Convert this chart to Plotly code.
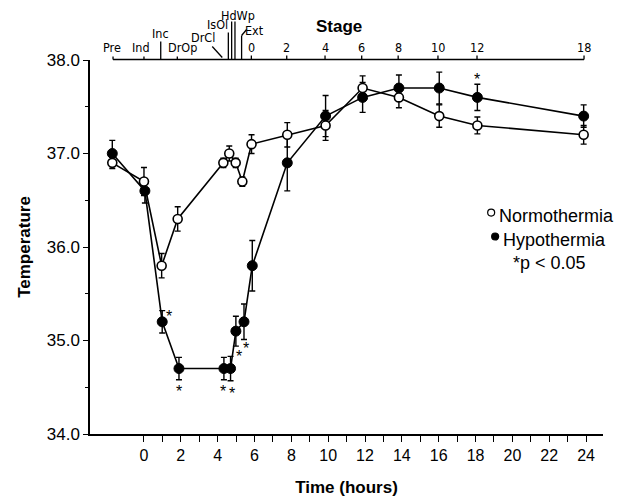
import plotly.graph_objects as go

# ---------------- data ----------------
time_normo = [-1.72, 0.0, 0.96, 1.83, 4.31, 4.63, 4.98, 5.34, 5.84, 7.78, 9.86, 11.87, 13.84, 16.03, 18.1, 23.87]
temp_normo = [36.9, 36.7, 35.8, 36.3, 36.9, 37.0, 36.9, 36.7, 37.1, 37.2, 37.3, 37.7, 37.6, 37.4, 37.3, 37.2]
err_normo = [0.06, 0.15, 0.13, 0.13, 0.05, 0.08, 0.05, 0.05, 0.10, 0.13, 0.16, 0.13, 0.11, 0.12, 0.09, 0.10]

time_hypo = [-1.72, 0.05, 0.99, 1.9, 4.34, 4.7, 4.99, 5.43, 5.88, 7.78, 9.86, 11.87, 13.84, 16.03, 18.1, 23.87]
temp_hypo = [37.0, 36.6, 35.2, 34.7, 34.7, 34.7, 35.1, 35.2, 35.8, 36.9, 37.4, 37.6, 37.7, 37.7, 37.6, 37.4]
err_hypo = [0.14, 0.13, 0.12, 0.12, 0.12, 0.13, 0.16, 0.19, 0.27, 0.30, 0.22, 0.16, 0.14, 0.17, 0.14, 0.12]

# indices of hypothermia points with p < 0.05
sig_idx = [2, 3, 4, 5, 6, 7, 14]

# stage axis (top)
stage_names = ["Pre", "Ind", "Inc", "DrOp", "DrCl", "IsOl", "Hd", "Wp", "Ext"]
stage_times = [-1.68, 0.0, 0.91, 1.81, 4.25, 4.58, 4.76, 4.94, 5.30]
post_labels = ["0", "2", "4", "6", "8", "10", "12", "18"]
post_times = [5.83, 7.75, 9.83, 11.82, 13.80, 15.96, 18.08, 23.89]

x_tick_vals = list(range(0, 25))
x_tick_text = [str(v) if v % 2 == 0 else "" for v in x_tick_vals]
y_tick_vals = [34, 35, 36, 37, 38]

FONT = "Liberation Sans, Arial, Helvetica, sans-serif"
NARROW = "Liberation Sans Narrow, Arial Narrow, DejaVu Sans Condensed, Liberation Sans, sans-serif"

fig = go.Figure()

fig.add_trace(go.Scatter(
    x=time_hypo, y=temp_hypo, mode="lines+markers", name="Hypothermia",
    line=dict(color="black", width=1.6),
    marker=dict(symbol="circle", size=10, color="black", line=dict(color="black", width=1)),
    error_y=dict(type="data", array=err_hypo, visible=True, color="black", thickness=1.4, width=3),
    showlegend=False,
))
fig.add_trace(go.Scatter(
    x=time_normo, y=temp_normo, mode="lines+markers", name="Normothermia",
    line=dict(color="black", width=1.6),
    marker=dict(symbol="circle", size=9, color="white", line=dict(color="black", width=1.6)),
    error_y=dict(type="data", array=err_normo, visible=True, color="black", thickness=1.4, width=3),
    showlegend=False,
))

annotations = []
shapes = []

# significance stars (offsets in px relative to the point)
star_offsets = {2: (7, 5), 3: (0, -23), 4: (-1, -23), 5: (1, -25), 6: (3, -25), 7: (2, -27), 14: (0, 18)}
for i in sig_idx:
    dx, dy = star_offsets[i]
    annotations.append(dict(x=time_hypo[i], y=temp_hypo[i], xref="x", yref="y", text="*",
                            showarrow=False, xshift=dx, yshift=dy,
                            font=dict(family=FONT, size=16, color="black")))

# ---- stage axis (drawn along the top of the plot) ----
LINE_Y = 0.5  # px above plot top
shapes.append(dict(type="line", xref="x", yref="paper", ysizemode="pixel", yanchor=1,
                   x0=stage_times[0], x1=post_times[-1], y0=LINE_Y, y1=LINE_Y,
                   line=dict(color="black", width=1.5)))

STAGE_FONT = dict(family=NARROW, size=12.5, color="black")
# label placement for the stage names: (xshift, yshift)
stage_layout = {"Pre": (-1, 13), "Ind": (-3, 13), "Inc": (0, 27), "DrOp": (5, 13),
                "DrCl": (-19, 23), "IsOl": (-11, 36), "Ext": (13, 30)}
for name, t in zip(stage_names, stage_times):
    if name in ("Hd", "Wp"):
        continue
    dx, dy = stage_layout[name]
    annotations.append(dict(x=t, y=1, xref="x", yref="paper", text=name, showarrow=False,
                            xshift=dx, yshift=dy, yanchor="middle", font=STAGE_FONT))
hd_t = stage_times[stage_names.index("Hd")]
wp_t = stage_times[stage_names.index("Wp")]
annotations.append(dict(x=hd_t, y=1, xref="x", yref="paper", text="HdWp", showarrow=False,
                        xshift=6, yshift=45, yanchor="middle", font=STAGE_FONT))


def seg(t, x0, y0, x1, y1):
    shapes.append(dict(type="line", xref="x", yref="paper", xsizemode="pixel", xanchor=t,
                       ysizemode="pixel", yanchor=1, x0=x0, x1=x1, y0=y0, y1=y1,
                       line=dict(color="black", width=1.3)))


# small ticks
for name in ("Pre", "Ind", "DrOp"):
    seg(stage_times[stage_names.index(name)], 0, LINE_Y, 0, LINE_Y + 3)
for t in post_times:
    seg(t, 0, LINE_Y, 0, LINE_Y + 4)
# leader lines
seg(stage_times[2], 0, LINE_Y, 0, LINE_Y + 18)           # Inc
seg(stage_times[4], 0, LINE_Y + 2, -10, LINE_Y + 13)     # DrCl
seg(stage_times[5], 0, LINE_Y, 0, LINE_Y + 27)           # IsOl
seg(hd_t, 0, LINE_Y, 0, LINE_Y + 38)                     # Hd
seg(wp_t, 0, LINE_Y, 0, LINE_Y + 38)                     # Wp
seg(stage_times[8], 0, LINE_Y, 0, LINE_Y + 24)           # Ext
seg(stage_times[8], 0, LINE_Y + 24, 5, LINE_Y + 30)

for lab, t in zip(post_labels, post_times):
    annotations.append(dict(x=t, y=1, xref="x", yref="paper", text=lab, showarrow=False,
                            yshift=13, yanchor="middle", font=STAGE_FONT))

annotations.append(dict(x=0.486, y=1, xref="paper", yref="paper", text="<b>Stage</b>",
                        showarrow=False, yshift=34, yanchor="middle",
                        font=dict(family=FONT, size=17, color="black")))

# ---- legend (custom) ----
LEG_X = 0.782
legend_rows = [("Normothermia", "white", 0.584, 0), ("Hypothermia", "black", 0.520, 4)]
for label, fill, ypos, indent in legend_rows:
    shapes.append(dict(type="circle", xref="paper", yref="paper", xsizemode="pixel",
                       ysizemode="pixel", xanchor=LEG_X, yanchor=ypos,
                       x0=indent - 3.5, x1=indent + 3.5, y0=-2.5 + 2, y1=4.5 + 2,
                       fillcolor=fill, line=dict(color="black", width=1.2)))
    annotations.append(dict(x=LEG_X, y=ypos, xref="paper", yref="paper", text=label,
                            showarrow=False, xanchor="left", yanchor="middle",
                            xshift=indent + 6, font=dict(family=FONT, size=18, color="black")))
annotations.append(dict(x=LEG_X, y=0.457, xref="paper", yref="paper", text="*p < 0.05",
                        showarrow=False, xanchor="left", yanchor="middle", xshift=20,
                        font=dict(family=FONT, size=18, color="black")))

# the page body adds an 8px offset; the figure is sized so the plot lands where the reference has it
fig.update_layout(
    width=617, height=489,
    margin=dict(l=82, r=22, t=52, b=63),
    paper_bgcolor="white", plot_bgcolor="white",
    font=dict(family=FONT, color="black"),
    annotations=annotations, shapes=shapes,
    showlegend=False,
)
fig.update_xaxes(
    range=[-2.93, 24.92], tickmode="array", tickvals=x_tick_vals, ticktext=x_tick_text,
    ticks="outside", ticklen=6, tickwidth=1.2, tickcolor="black",
    showline=True, linecolor="black", linewidth=1.5, showgrid=False, zeroline=False,
    automargin=False,
    tickfont=dict(family=FONT, size=16, color="black"),
    title=dict(text="<b>Time (hours)</b>", font=dict(family=FONT, size=17, color="black"), standoff=25),
)
fig.update_yaxes(
    range=[34, 38], tickmode="array", tickvals=y_tick_vals,
    ticktext=[f"{v:.1f}" for v in y_tick_vals],
    ticks="outside", ticklen=5, tickwidth=1.2, tickcolor="black",
    minor=dict(dtick=0.5, ticks="outside", ticklen=3, tickcolor="black", showgrid=False),
    showline=True, linecolor="black", linewidth=1.5, showgrid=False, zeroline=False,
    automargin=False,
    tickfont=dict(family=FONT, size=17, color="black"),
    title=dict(text="<b>Temperature</b>", font=dict(family=FONT, size=17, color="black"), standoff=12),
)

fig.write_html("out.html")
